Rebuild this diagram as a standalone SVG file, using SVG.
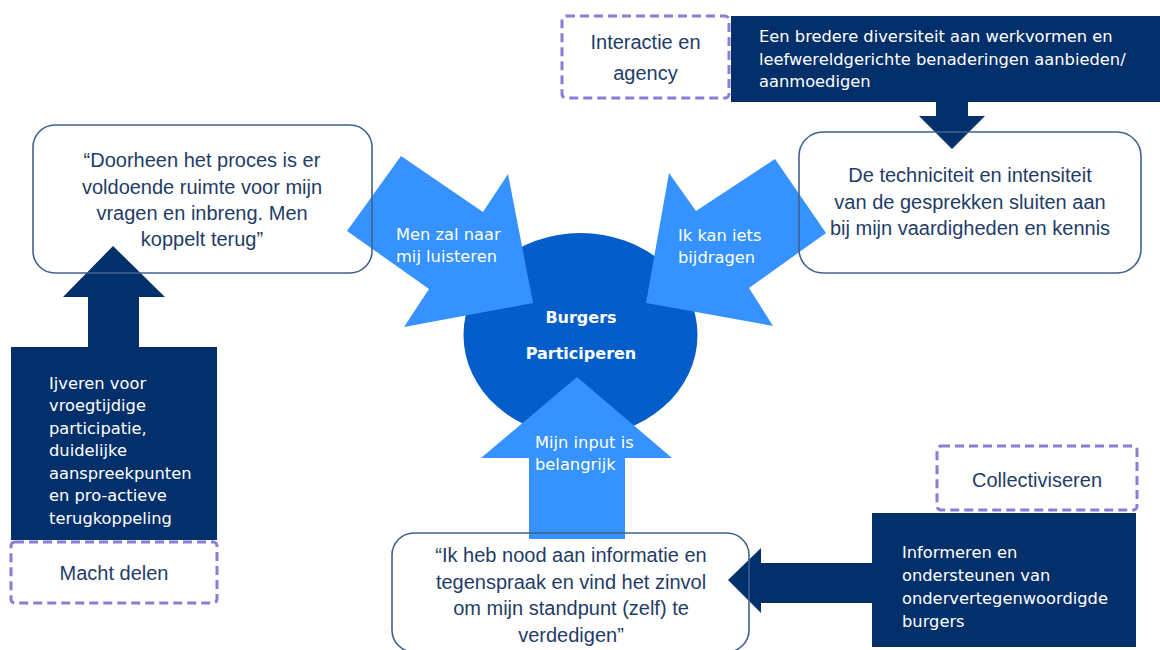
<svg xmlns="http://www.w3.org/2000/svg" width="1160" height="650" viewBox="0 0 1160 650">
<style>
.light{fill:#3592FF}
.navy{fill:#03306A}
.box{fill:none;stroke:#41628F;stroke-width:1.6}
.dash{fill:#FFFFFF;stroke:#8A7DD4;stroke-width:3;stroke-dasharray:9 5}
.q{font-family:"Liberation Sans",Arial,sans-serif;font-size:20px;fill:#1F3C68;text-anchor:middle}
.w{font-family:"DejaVu Sans",Verdana,sans-serif;font-size:16.3px;fill:#FFFFFF}
.c{font-family:"DejaVu Sans",Verdana,sans-serif;font-size:16px;font-weight:bold;fill:#FFFFFF;text-anchor:middle}
</style>
<rect width="1160" height="650" fill="#FFFFFF"/>

<g id="center">
<ellipse cx="580.5" cy="335" rx="117" ry="102" fill="#045DC9"/>
</g>

<g id="connectors">
<g id="arrow-left">
<polygon class="light" points="347,231 401,156 483,212 508,174 533,303 404,327 429,289"/>
<text class="w" x="396" y="239.5">Men zal naar</text>
<text class="w" x="396" y="261.5">mij luisteren</text>
</g>
<g id="arrow-right">
<polygon class="light" points="826,233 775,159 696,211 669,173 646,303 773,326 749,288"/>
<text class="w" x="678" y="240.5">Ik kan iets</text>
<text class="w" x="678" y="262.5">bijdragen</text>
</g>
<g id="arrow-bottom">
<polygon class="light" points="577,377 672,458 625,458 625,539 529,539 529,458 481,458"/>
<text class="w" x="535" y="447.5">Mijn input is</text>
<text class="w" x="535" y="469.5">belangrijk</text>
</g>
<polygon id="arrow-topright" class="navy" points="936,102 968,102 968,116 985,116 952,149 919,116 936,116"/>
<polygon id="arrow-leftup" class="navy" points="113,246 165,297 139,297 139,348 88,348 88,297 63,297"/>
<polygon id="arrow-bottomright" class="navy" points="872,563 872,603 761,603 761,613 728,580 761,548 761,563"/>
</g>

<g id="center-label">
<text class="c" x="581" y="323">Burgers</text>
<text class="c" x="581" y="359">Participeren</text>
</g>

<g id="quote-left">
<rect class="box" x="33" y="125" width="339" height="148" rx="22"/>
<text class="q" x="202" y="167">“Doorheen het proces is er</text>
<text class="q" x="202" y="194">voldoende ruimte voor mijn</text>
<text class="q" x="202" y="220">vragen en inbreng. Men</text>
<text class="q" x="202" y="246">koppelt terug”</text>
</g>

<g id="quote-right">
<rect class="box" x="799" y="132" width="342" height="141" rx="24"/>
<text class="q" x="970" y="182">De techniciteit en intensiteit</text>
<text class="q" x="970" y="209">van de gesprekken sluiten aan</text>
<text class="q" x="970" y="235">bij mijn vaardigheden en kennis</text>
</g>

<g id="quote-bottom">
<rect class="box" x="392" y="533" width="357" height="119" rx="22"/>
<text class="q" x="571" y="562">“Ik heb nood aan informatie en</text>
<text class="q" x="571" y="589">tegenspraak en vind het zinvol</text>
<text class="q" x="571" y="615">om mijn standpunt (zelf) te</text>
<text class="q" x="571" y="642">verdedigen”</text>
</g>

<g id="action-left">
<rect class="navy" x="11" y="347" width="206" height="193"/>
<text class="w" x="49" y="388.5">Ijveren voor</text>
<text class="w" x="49" y="411">vroegtijdige</text>
<text class="w" x="49" y="434">participatie,</text>
<text class="w" x="49" y="456">duidelijke</text>
<text class="w" x="49" y="479">aanspreekpunten</text>
<text class="w" x="49" y="501">en pro-actieve</text>
<text class="w" x="49" y="524">terugkoppeling</text>
</g>

<g id="action-top">
<rect class="navy" x="731" y="16" width="429" height="86"/>
<text class="w" x="759" y="41.5">Een bredere diversiteit aan werkvormen en</text>
<text class="w" x="759" y="64.5">leefwereldgerichte benaderingen aanbieden/</text>
<text class="w" x="759" y="86.5">aanmoedigen</text>
</g>

<g id="action-bottomright">
<rect class="navy" x="872" y="513" width="264" height="134"/>
<text class="w" x="902" y="558">Informeren en</text>
<text class="w" x="902" y="581">ondersteunen van</text>
<text class="w" x="902" y="604">ondervertegenwoordigde</text>
<text class="w" x="902" y="627">burgers</text>
</g>

<g id="label-macht">
<rect class="dash" x="11" y="542" width="206" height="61" rx="4"/>
<text class="q" x="114" y="580">Macht delen</text>
</g>

<g id="label-interactie">
<rect class="dash" x="562" y="16" width="167" height="82" rx="4"/>
<text class="q" x="645.5" y="49">Interactie en</text>
<text class="q" x="645.5" y="80">agency</text>
</g>

<g id="label-collectiviseren">
<rect class="dash" x="937" y="446" width="200" height="64" rx="4"/>
<text class="q" x="1037" y="487">Collectiviseren</text>
</g>
</svg>
